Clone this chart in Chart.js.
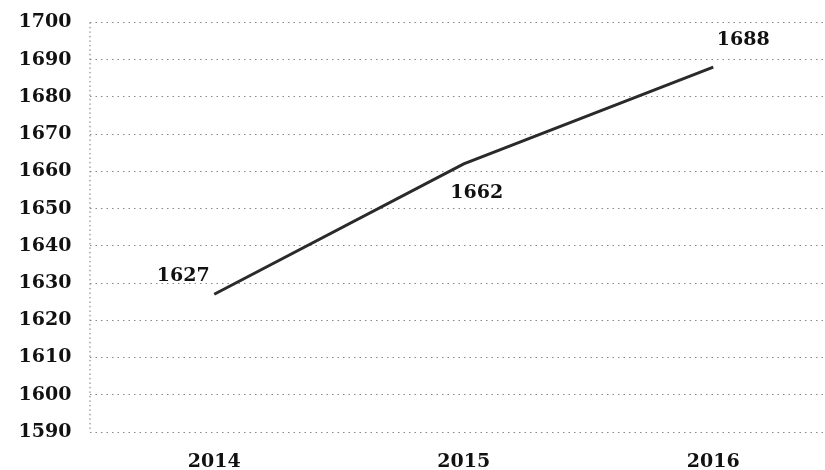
<!DOCTYPE html>
<html>
<head>
<meta charset="utf-8">
<script src="https://cdn.jsdelivr.net/npm/chart.js@4"></script>
<style>
  html, body { margin: 0; padding: 0; background: #fff; overflow: hidden; }
  #wrap { width: 838px; height: 477px; position: relative; margin-top: -7px; }
</style>
</head>
<body>
<div id="wrap"><canvas id="c"></canvas></div>
<script>
const years = ['2014', '2015', '2016'];
const values = [1627, 1662, 1688];
const yMin = 1590, yMax = 1700, yStep = 10;

// label placement around each point (dx, dy in px)
const labelOffsets = [[-31, -18], [13, 29], [30, -27]];
const serif = '"DejaVu Serif", "Liberation Serif", serif';
const fontSize = 19;

const valueLabels = {
  id: 'valueLabels',
  afterDatasetsDraw(chart) {
    const ctx = chart.ctx;
    const meta = chart.getDatasetMeta(0);
    ctx.save();
    ctx.font = 'bold ' + fontSize + 'px ' + serif;
    ctx.fillStyle = '#111';
    ctx.textAlign = 'center';
    ctx.textBaseline = 'middle';
    meta.data.forEach((pt, i) => {
      const [dx, dy] = labelOffsets[i];
      ctx.fillText(String(values[i]), pt.x + dx, pt.y + dy);
    });
    ctx.restore();
  }
};

const leftAxisLine = {
  id: 'leftAxisLine',
  beforeDatasetsDraw(chart) {
    const { ctx, chartArea } = chart;
    ctx.save();
    ctx.strokeStyle = '#777';
    ctx.lineWidth = 1;
    ctx.setLineDash([1.5, 3]);
    ctx.beginPath();
    ctx.moveTo(chartArea.left + 0.5, chartArea.top);
    ctx.lineTo(chartArea.left + 0.5, chartArea.bottom);
    ctx.stroke();
    ctx.restore();
  }
};

new Chart(document.getElementById('c'), {
  type: 'line',
  data: {
    labels: years,
    datasets: [{
      data: values,
      borderColor: '#2a2a2a',
      borderWidth: 3,
      pointRadius: 0,
      tension: 0,
      fill: false
    }]
  },
  options: {
    responsive: true,
    maintainAspectRatio: false,
    animation: false,
    layout: { padding: { top: 7, right: 0, bottom: 0, left: 0 } },
    plugins: { legend: { display: false }, tooltip: { enabled: false } },
    scales: {
      x: {
        offset: true,
        grid: { display: false, drawTicks: false },
        border: { display: false },
        afterFit(scale) { scale.height = 38; },
        ticks: {
          padding: 19,
          color: '#111',
          font: { family: serif, size: fontSize, weight: 'bold' }
        }
      },
      y: {
        min: yMin,
        max: yMax,
        afterFit(scale) { scale.width = 89.5; },
        grid: { color: '#888', lineWidth: 1, drawTicks: false },
        border: { display: false, dash: [1.5, 4] },
        ticks: {
          stepSize: yStep,
          padding: 18,
          color: '#111',
          font: { family: serif, size: fontSize, weight: 'bold' },
          callback: (v) => String(v)
        }
      }
    }
  },
  plugins: [leftAxisLine, valueLabels]
});
</script>
</body>
</html>
